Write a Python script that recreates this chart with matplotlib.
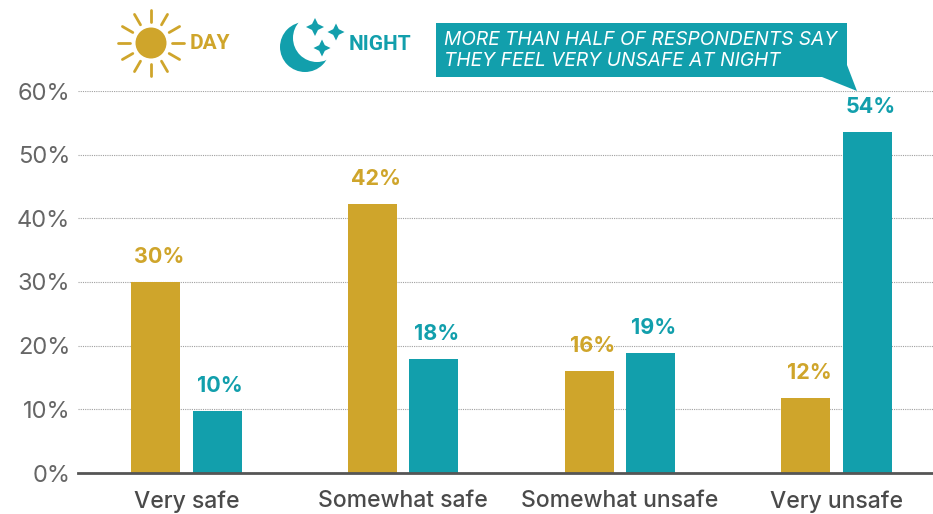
import numpy as np
import matplotlib
matplotlib.use("Agg")
import matplotlib.pyplot as plt
from matplotlib.patches import Circle, Polygon

categories = ["Very safe", "Somewhat safe", "Somewhat unsafe", "Very unsafe"]
day_values = [30, 42.2, 16, 11.8]
night_values = [9.7, 17.9, 18.9, 53.5]
day_labels = ["30%", "42%", "16%", "12%"]
night_labels = ["10%", "18%", "19%", "54%"]
y_ticks = [0, 10, 20, 30, 40, 50, 60]

GOLD = "#CFA52B"
TEAL = "#129FAC"
GRAY = "#666666"
FONT = "Inter"

W, H = 933, 514
fig = plt.figure(figsize=(W / 100, H / 100), dpi=100, facecolor="white")
ax = fig.add_axes([78 / W, 1 - 473 / H, (W - 78) / W, (473 - 91) / H])

x = np.arange(len(categories))
bw = 49 / 216.7
off = 30.8 / 216.7
ax.bar(x - off, day_values, bw, color=GOLD, zorder=3)
ax.bar(x + off, night_values, bw, color=TEAL, zorder=3)
for xi, v, s in zip(x, day_values, day_labels):
    ax.annotate(s, (xi - off, v), xytext=(4, 15), textcoords="offset pixels", ha="center", va="bottom",
                color=GOLD, fontsize=15.5, fontweight="bold", family=FONT)
for xi, v, s in zip(x, night_values, night_labels):
    ax.annotate(s, (xi + off, v), xytext=(3, 15), textcoords="offset pixels", ha="center", va="bottom",
                color=TEAL, fontsize=15.5, fontweight="bold", family=FONT)

ax.set_xlim(-0.5, 3.445)
ax.set_ylim(0, 60)
ax.set_yticks(y_ticks)
ax.set_yticklabels([f"{t}%" for t in y_ticks], fontsize=17, color=GRAY, family=FONT)
ax.set_xticks(x)
ax.set_xticklabels(categories, fontsize=16.5, color="#4a4a4a", family=FONT, fontweight="medium")
ax.tick_params(axis="both", length=0)
ax.tick_params(axis="y", pad=5.5)
ax.tick_params(axis="x", pad=12.5)
ax.grid(axis="y", color="#a0a0a0", linestyle=(0, (1, 1)), linewidth=0.8, zorder=0)
for s in ["top", "right", "left"]:
    ax.spines[s].set_visible(False)
ax.spines["bottom"].set_color("#555555")
ax.spines["bottom"].set_linewidth(2)
ax.spines["bottom"].set_zorder(4)
ax.patch.set_alpha(0)

# Decoration layer in pixel coordinates
ov = fig.add_axes([0, 0, 1, 1], zorder=5)
ov.set_xlim(0, W)
ov.set_ylim(H, 0)
ov.axis("off")
ov.patch.set_alpha(0)

# Sun icon
sx, sy = 151, 43
ov.add_patch(Circle((sx, sy), 15.5, color=GOLD, lw=0))
for a in np.deg2rad(np.arange(0, 360, 30)):
    ov.plot([sx + 21 * np.cos(a), sx + 33 * np.cos(a)],
            [sy + 21 * np.sin(a), sy + 33 * np.sin(a)], color=GOLD, lw=2, solid_capstyle="round")
ov.text(190, 43.5, "DAY", color=GOLD, fontsize=15, fontweight="bold",
        family="Roboto", ha="left", va="center")

# Moon icon
ov.add_patch(Circle((305, 47), 25, color=TEAL, lw=0))
ov.add_patch(Circle((317, 38), 24, color="white", lw=0))


def star(cx, cy, r):
    i = r * 0.33
    pts = [(cx, cy - r), (cx + i, cy - i), (cx + r, cy), (cx + i, cy + i),
           (cx, cy + r), (cx - i, cy + i), (cx - r, cy), (cx - i, cy - i)]
    ov.add_patch(Polygon(pts, closed=True, color=TEAL, lw=0))


star(315, 27, 9)
star(336, 32, 8.5)
star(322, 48, 8.5)
ov.text(349, 44.5, "NIGHT", color=TEAL, fontsize=15, fontweight="bold",
        family="Roboto", ha="left", va="center")

# Callout
ov.add_patch(Polygon([(436, 23), (847, 23), (847, 65), (857, 91), (822, 77), (436, 77)],
                     closed=True, color=TEAL, lw=0))
ov.text(444, 40, "MORE THAN HALF OF RESPONDENTS SAY", color="white", fontsize=13.8, style="italic",
        family=FONT, ha="left", va="center")
ov.text(444, 61, "THEY FEEL VERY UNSAFE AT NIGHT", color="white", fontsize=13.8, style="italic",
        family=FONT, ha="left", va="center")

fig.savefig("out.png", dpi=100, facecolor="white")
